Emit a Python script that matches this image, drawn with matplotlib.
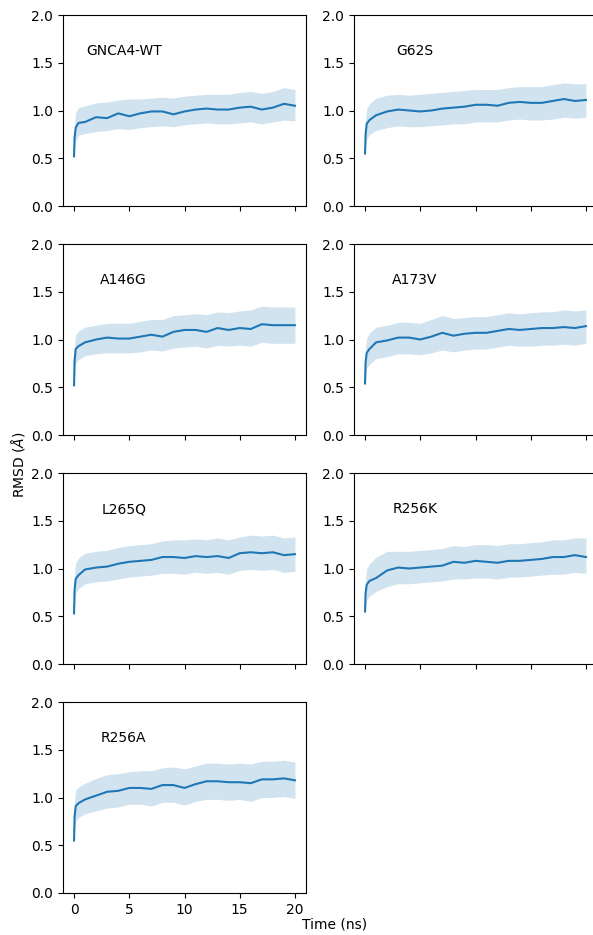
import numpy as np
import matplotlib
matplotlib.use("Agg")
from matplotlib import pyplot as plt

t = [0, 0.05, 0.15, 0.4, 1, 2, 3, 4, 5, 6, 7, 8, 9, 10, 11, 12, 13, 14, 15, 16, 17, 18, 19, 20]

names = ["GNCA4-WT", "G62S", "A146G", "A173V", "L265Q", "R256K", "R256A"]

wt_mean = [0.52, 0.72, 0.82, 0.87, 0.88, 0.93, 0.92, 0.97, 0.94, 0.97, 0.99, 0.99, 0.96, 0.99, 1.01, 1.02, 1.01, 1.01, 1.03, 1.04, 1.01, 1.03, 1.07, 1.05]
wt_hi = [0.55, 0.88, 0.98, 1.03, 1.05, 1.08, 1.09, 1.11, 1.12, 1.12, 1.13, 1.14, 1.13, 1.15, 1.16, 1.17, 1.17, 1.17, 1.19, 1.20, 1.18, 1.20, 1.24, 1.22]
wt_lo = [0.50, 0.60, 0.68, 0.74, 0.76, 0.78, 0.79, 0.81, 0.80, 0.82, 0.83, 0.84, 0.83, 0.85, 0.86, 0.87, 0.86, 0.86, 0.87, 0.88, 0.86, 0.88, 0.90, 0.89]

g62s_mean = [0.55, 0.75, 0.86, 0.90, 0.95, 0.99, 1.01, 1.00, 0.99, 1.00, 1.02, 1.03, 1.04, 1.06, 1.06, 1.05, 1.08, 1.09, 1.08, 1.08, 1.10, 1.12, 1.10, 1.11]
g62s_hi = [0.58, 0.92, 1.02, 1.07, 1.13, 1.16, 1.17, 1.16, 1.17, 1.18, 1.19, 1.20, 1.21, 1.22, 1.22, 1.22, 1.24, 1.25, 1.25, 1.25, 1.27, 1.29, 1.28, 1.28]
g62s_lo = [0.52, 0.60, 0.70, 0.75, 0.79, 0.82, 0.84, 0.83, 0.83, 0.84, 0.85, 0.86, 0.86, 0.88, 0.88, 0.88, 0.90, 0.91, 0.90, 0.90, 0.91, 0.93, 0.92, 0.93]

a146g_mean = [0.52, 0.78, 0.90, 0.93, 0.97, 1.00, 1.02, 1.01, 1.01, 1.03, 1.05, 1.03, 1.08, 1.10, 1.10, 1.08, 1.12, 1.10, 1.12, 1.11, 1.16, 1.15, 1.15, 1.15]
a146g_hi = [0.56, 0.95, 1.05, 1.09, 1.13, 1.15, 1.17, 1.17, 1.17, 1.19, 1.21, 1.21, 1.25, 1.26, 1.27, 1.26, 1.29, 1.28, 1.30, 1.31, 1.35, 1.34, 1.34, 1.34]
a146g_lo = [0.49, 0.62, 0.75, 0.79, 0.83, 0.85, 0.86, 0.86, 0.86, 0.87, 0.89, 0.88, 0.91, 0.92, 0.93, 0.91, 0.94, 0.93, 0.94, 0.93, 0.97, 0.96, 0.96, 0.96]

a173v_mean = [0.54, 0.76, 0.86, 0.90, 0.97, 0.99, 1.02, 1.02, 1.00, 1.03, 1.07, 1.04, 1.06, 1.07, 1.07, 1.09, 1.11, 1.10, 1.11, 1.12, 1.12, 1.13, 1.12, 1.14]
a173v_hi = [0.57, 0.92, 1.02, 1.07, 1.13, 1.15, 1.18, 1.18, 1.17, 1.21, 1.25, 1.22, 1.23, 1.24, 1.24, 1.26, 1.28, 1.27, 1.28, 1.29, 1.29, 1.31, 1.30, 1.31]
a173v_lo = [0.51, 0.60, 0.70, 0.74, 0.80, 0.82, 0.85, 0.85, 0.84, 0.86, 0.89, 0.87, 0.89, 0.90, 0.90, 0.92, 0.94, 0.93, 0.93, 0.94, 0.94, 0.95, 0.94, 0.96]

l265q_mean = [0.53, 0.78, 0.89, 0.93, 0.99, 1.01, 1.02, 1.05, 1.07, 1.08, 1.09, 1.12, 1.12, 1.11, 1.13, 1.12, 1.13, 1.11, 1.16, 1.17, 1.16, 1.17, 1.14, 1.15]
l265q_hi = [0.56, 0.95, 1.06, 1.11, 1.16, 1.18, 1.19, 1.22, 1.24, 1.25, 1.26, 1.29, 1.30, 1.30, 1.31, 1.30, 1.32, 1.30, 1.33, 1.35, 1.34, 1.35, 1.32, 1.33]
l265q_lo = [0.50, 0.62, 0.74, 0.79, 0.84, 0.86, 0.87, 0.89, 0.91, 0.92, 0.93, 0.95, 0.95, 0.94, 0.96, 0.95, 0.96, 0.94, 0.98, 0.99, 0.98, 0.99, 0.96, 0.97]

r256k_mean = [0.55, 0.74, 0.83, 0.87, 0.90, 0.98, 1.01, 1.00, 1.01, 1.02, 1.03, 1.07, 1.06, 1.08, 1.07, 1.06, 1.08, 1.08, 1.09, 1.10, 1.12, 1.12, 1.14, 1.12]
r256k_hi = [0.58, 0.90, 1.00, 1.05, 1.12, 1.18, 1.18, 1.18, 1.19, 1.20, 1.21, 1.24, 1.23, 1.25, 1.25, 1.24, 1.26, 1.26, 1.27, 1.28, 1.30, 1.30, 1.32, 1.32]
r256k_lo = [0.52, 0.58, 0.66, 0.71, 0.76, 0.81, 0.84, 0.84, 0.85, 0.86, 0.87, 0.89, 0.89, 0.90, 0.90, 0.89, 0.91, 0.91, 0.92, 0.93, 0.94, 0.94, 0.96, 0.95]

r256a_mean = [0.55, 0.80, 0.91, 0.94, 0.98, 1.02, 1.06, 1.07, 1.10, 1.10, 1.09, 1.13, 1.13, 1.10, 1.14, 1.17, 1.17, 1.16, 1.16, 1.15, 1.19, 1.19, 1.20, 1.18]
r256a_hi = [0.58, 0.97, 1.08, 1.11, 1.15, 1.20, 1.24, 1.25, 1.27, 1.28, 1.28, 1.31, 1.32, 1.30, 1.33, 1.36, 1.36, 1.35, 1.36, 1.35, 1.38, 1.38, 1.39, 1.37]
r256a_lo = [0.52, 0.63, 0.75, 0.79, 0.83, 0.86, 0.89, 0.90, 0.93, 0.93, 0.91, 0.95, 0.95, 0.92, 0.96, 0.98, 0.98, 0.97, 0.98, 0.96, 1.00, 1.00, 1.01, 0.99]

means = [wt_mean, g62s_mean, a146g_mean, a173v_mean, l265q_mean, r256k_mean, r256a_mean]
highs = [wt_hi, g62s_hi, a146g_hi, a173v_hi, l265q_hi, r256k_hi, r256a_hi]
lows = [wt_lo, g62s_lo, a146g_lo, a173v_lo, l265q_lo, r256k_lo, r256a_lo]

W, H = 593, 935
fig, axes = plt.subplots(4, 2, figsize=(W / 100, H / 100), dpi=100, sharex=True)

# place panels by pixel (right column runs a little past the edge, like the original)
col_left = [63, 354]
row_top = [15, 244, 473, 702]
pw, ph = 243, 191
for r in range(4):
    for c in range(2):
        axes[r, c].set_position([col_left[c] / W, 1 - (row_top[r] + ph) / H, pw / W, ph / H])

color = "#1f77b4"
for i, name in enumerate(names):
    ax = axes[i // 2, i % 2]
    ax.fill_between(t, lows[i], highs[i], color=color, alpha=0.2, linewidth=0)
    ax.plot(t, means[i], color=color, linewidth=1.5)
    ax.set_ylim(0, 2.0)
    ax.set_yticks([0.0, 0.5, 1.0, 1.5, 2.0])
    ax.text(4.5, 1.62, name, ha="center", va="center", fontsize=10)

axes[3, 1].axis("off")
axes[3, 0].set_xticks([0, 5, 10, 15, 20])
axes[3, 0].set_xlim(-1, 21)
for ax in axes[:3, :].ravel():
    ax.tick_params(labelbottom=False)

fig.text(335 / W, 1 - 925 / H, "Time (ns)", ha="center", va="center", fontsize=10)
fig.text(18 / W, 1 - 465 / H, r"RMSD ($\AA$)", ha="center", va="center", rotation=90, fontsize=10)

fig.savefig("out.png", dpi=100)
